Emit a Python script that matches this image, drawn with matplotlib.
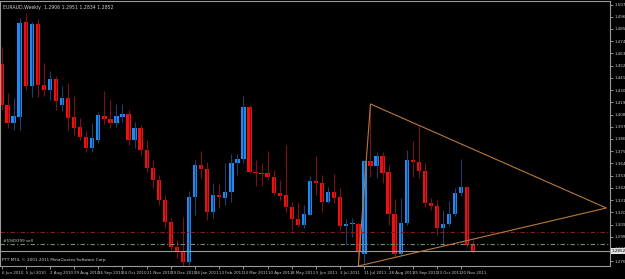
import numpy as np
import matplotlib
matplotlib.use("Agg")
import matplotlib.pyplot as plt

# EURAUD weekly candles (open, high, low, close)
opens = [1.4535, 1.4166, 1.4004, 1.4058, 1.4913, 1.4337, 1.4895, 1.4346, 1.4301, 1.4400,
         1.4166, 1.4229, 1.4058, 1.3968, 1.3878, 1.3779, 1.3851, 1.4067, 1.4040, 1.4004,
         1.4058, 1.4085, 1.3851, 1.3959, 1.3761, 1.3599, 1.3491, 1.3311, 1.3113, 1.2888,
         1.2852, 1.2753, 1.3338, 1.3626, 1.3590, 1.3203, 1.3356, 1.3329, 1.3383, 1.3644,
         1.3680, 1.4148, 1.3563, 1.3554, 1.3554, 1.3518, 1.3374, 1.3356, 1.3248, 1.3140,
         1.3086, 1.3176, 1.3482, 1.3464, 1.3293, 1.3383, 1.3338, 1.3077, 1.3095, 1.3095,
         1.2825, 1.3662, 1.3617, 1.3707, 1.3563, 1.3185, 1.2825, 1.3104, 1.3671, 1.3653,
         1.3572, 1.3284, 1.3257, 1.3059, 1.3095, 1.3185, 1.3374, 1.3428, 1.2906]
highs = [1.4688, 1.4274, 1.4229, 1.4949, 1.4994, 1.4913, 1.4940, 1.4544, 1.4472, 1.4427,
         1.4337, 1.4364, 1.4247, 1.4049, 1.3932, 1.4004, 1.4103, 1.4292, 1.4211, 1.4175,
         1.4175, 1.4121, 1.4013, 1.3986, 1.3851, 1.3671, 1.3536, 1.3356, 1.3149, 1.2951,
         1.3158, 1.3392, 1.3671, 1.3752, 1.3653, 1.3464, 1.3455, 1.3644, 1.3725, 1.3725,
         1.4247, 1.4166, 1.3671, 1.3644, 1.3752, 1.3581, 1.3491, 1.3806, 1.3293, 1.3293,
         1.3266, 1.3527, 1.3707, 1.3536, 1.3428, 1.3545, 1.3419, 1.3140, 1.3149, 1.3113,
         1.3671, 1.4175, 1.3743, 1.3743, 1.3626, 1.3320, 1.3329, 1.3761, 1.3842, 1.3977,
         1.3644, 1.3329, 1.3311, 1.3221, 1.3302, 1.3419, 1.3680, 1.3437, 1.2951]
lows = [1.4121, 1.3959, 1.3941, 1.3941, 1.4301, 1.4238, 1.4238, 1.4247, 1.4211, 1.4121,
        1.4112, 1.3941, 1.3896, 1.3851, 1.3743, 1.3743, 1.3824, 1.3995, 1.3959, 1.3968,
        1.4013, 1.3806, 1.3779, 1.3716, 1.3563, 1.3419, 1.3266, 1.3059, 1.2861, 1.2789,
        1.2717, 1.2726, 1.3176, 1.3509, 1.3131, 1.3149, 1.3239, 1.3266, 1.3293, 1.3536,
        1.3644, 1.3554, 1.3437, 1.3437, 1.3491, 1.3356, 1.3311, 1.3203, 1.3041, 1.3068,
        1.3059, 1.3176, 1.3356, 1.3203, 1.3284, 1.3284, 1.3041, 1.2906, 1.2978, 1.2726,
        1.2744, 1.3518, 1.3509, 1.3464, 1.3086, 1.2798, 1.2807, 1.3086, 1.3518, 1.3509,
        1.3248, 1.3221, 1.2996, 1.2906, 1.3077, 1.3167, 1.3347, 1.2888, 1.2834]
closes = [1.4166, 1.4004, 1.4067, 1.4904, 1.4337, 1.4895, 1.4346, 1.4301, 1.4400, 1.4202,
          1.4229, 1.4049, 1.3959, 1.3878, 1.3779, 1.3869, 1.4076, 1.4040, 1.4004, 1.4067,
          1.4085, 1.3851, 1.3959, 1.3761, 1.3599, 1.3491, 1.3311, 1.3113, 1.2888, 1.2852,
          1.2753, 1.3338, 1.3626, 1.3590, 1.3203, 1.3356, 1.3338, 1.3383, 1.3644, 1.3680,
          1.4148, 1.3563, 1.3554, 1.3545, 1.3518, 1.3374, 1.3347, 1.3248, 1.3140, 1.3086,
          1.3185, 1.3482, 1.3464, 1.3293, 1.3383, 1.3329, 1.3077, 1.3095, 1.3104, 1.2852,
          1.3662, 1.3617, 1.3707, 1.3554, 1.3185, 1.2825, 1.3104, 1.3671, 1.3653, 1.3572,
          1.3284, 1.3257, 1.3059, 1.3095, 1.3185, 1.3374, 1.3428, 1.2906, 1.2852]

date_pos = list(range(0, 80, 4))
date_labels = ["6 Jun 2010", "5 Jul 2010", "2 Aug 2010", "29 Aug 2010", "26 Sep 2010",
               "24 Oct 2010", "21 Nov 2010", "19 Dec 2010", "16 Jan 2011", "13 Feb 2011",
               "13 Mar 2011", "10 Apr 2011", "8 May 2011", "5 Jun 2011", "3 Jul 2011",
               "31 Jul 2011", "28 Aug 2011", "25 Sep 2011", "23 Oct 2011", "20 Nov 2011"]

# triangle object (bar index, price)
tri_idx = [59, 61, 100, 59]
tri_price = [1.2717, 1.4175, 1.3239, 1.2717]

sl_price = 1.3023      # red dash-dot
order_price = 1.2915   # order line
bid_price = 1.2852

o = np.array(opens); h = np.array(highs); l = np.array(lows); c = np.array(closes)
x = np.arange(len(o))
up = c >= o

fig = plt.figure(figsize=(6.25, 2.79), dpi=100, facecolor="black")
ax = fig.add_axes([0.0, 13 / 279, 610 / 625, 265 / 279], facecolor="black")

ax.vlines(x[up], l[up], h[up], color="#1f3f6a", lw=0.8)
ax.vlines(x[~up], l[~up], h[~up], color="#7a1414", lw=0.8)
body = np.maximum(np.abs(c - o), 0.0008)
ax.bar(x[up], body[up], bottom=np.minimum(o, c)[up], width=0.72, color="#1e8cf5", lw=0)
ax.bar(x[~up], body[~up], bottom=np.minimum(o, c)[~up], width=0.72, color="#f01010", lw=0)

ax.axhline(sl_price, color="#8a1c1c", lw=0.8, ls=(0, (4, 2, 1, 2)))
ax.axhline(order_price, color="#6f8f6f", lw=0.8, ls=(0, (4, 2, 1, 2)))
ax.axhline(bid_price, color="#9a9a9a", lw=0.8)
ax.plot(tri_idx, tri_price, color="#b8783c", lw=0.8)

ax.set_xlim(-0.25, 100.6)
ax.set_ylim(1.2717, 1.5102)

for s in ax.spines.values():
    s.set_color("#9a9a9a")
    s.set_linewidth(0.8)

ax.yaxis.tick_right()
yt = np.arange(1.5070, 1.2717, -0.0110)
ax.set_yticks(yt)
ax.set_yticklabels(["%.5f" % v for v in yt])
ax.tick_params(axis="y", colors="#c8c8c8", labelsize=3.0, length=2, width=0.5, pad=1)
ax.set_xticks(date_pos)
ax.set_xticklabels(date_labels, ha="left")
ax.tick_params(axis="x", colors="#c8c8c8", labelsize=2.9, length=2, width=0.5, pad=1.5)

ax.text(1.0025, bid_price, "%.5f" % bid_price, transform=ax.get_yaxis_transform(),
        fontsize=3.0, color="black", va="center", ha="left",
        bbox=dict(boxstyle="square,pad=0.15", fc="#e0e0e0", ec="none"), clip_on=False)

ax.text(0.005, 0.985, "EURAUD,Weekly  1.2906 1.2951 1.2834 1.2852", transform=ax.transAxes,
        fontsize=3.3, color="#d0d0d0", va="top", ha="left")
ax.text(0.005, order_price + 0.0010, "#5949399 sell", fontsize=3.0, color="#c8c8c8",
        transform=ax.get_yaxis_transform(), va="bottom", ha="left")
ax.text(0.004, 0.015, "PTT MT4, \u00a9 2001-2011 MetaQuotes Software Corp.", transform=ax.transAxes,
        fontsize=3.0, color="#d0d0d0", va="bottom", ha="left")

fig.savefig("out.png", dpi=100, facecolor="black")
